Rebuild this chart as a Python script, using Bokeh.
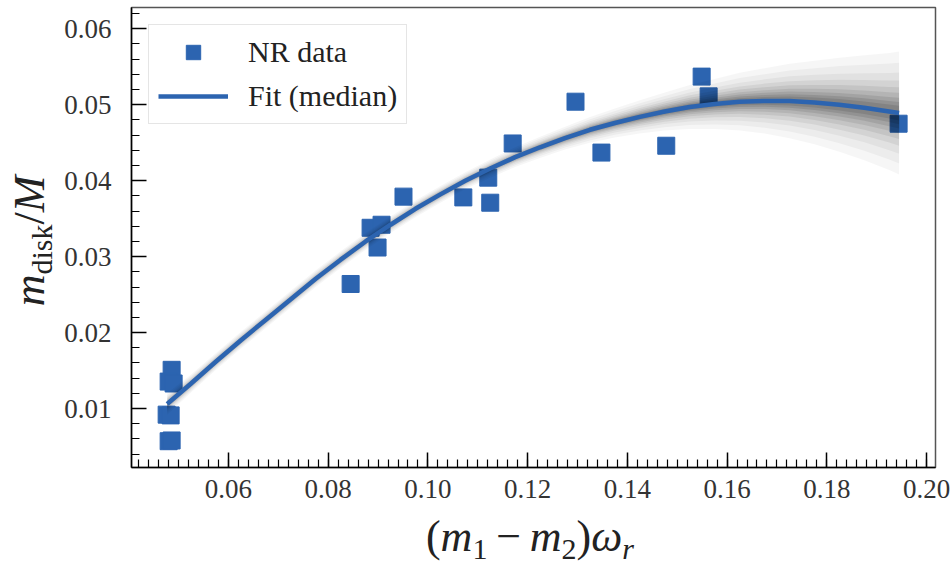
import numpy as np
from bokeh.plotting import figure
from bokeh.layouts import row, column
from bokeh.models import Div, Legend, LegendItem, FixedTicker, NumeralTickFormatter, Range1d
from bokeh.embed import file_html
from bokeh.resources import INLINE

# NR simulation points: disk mass vs (m1 - m2) * omega_r
nr_x = [0.0486, 0.0480, 0.0490, 0.0476, 0.0484, 0.0480, 0.0486, 0.0845, 0.0885,
        0.0899, 0.0907, 0.0951, 0.1071, 0.1121, 0.1125, 0.1170, 0.1296, 0.1348,
        0.1478, 0.1549, 0.1563, 0.1944]
nr_y = [0.0151, 0.01355, 0.0133, 0.0092, 0.0091, 0.0057, 0.0058, 0.0264, 0.0338,
        0.0312, 0.0342, 0.0379, 0.0378, 0.0404, 0.0371, 0.0449, 0.0504, 0.0437,
        0.0446, 0.0537, 0.0511, 0.0475]

# Posterior fit: median curve and spread of the posterior draws
fit_x = [0.0477, 0.0525, 0.0575, 0.0625, 0.0675, 0.0725, 0.0775, 0.0825, 0.0875,
         0.0925, 0.0975, 0.1025, 0.1075, 0.1125, 0.1175, 0.1225, 0.1275, 0.1325,
         0.1375, 0.1425, 0.1475, 0.1525, 0.1575, 0.1625, 0.1675, 0.1725, 0.1775,
         0.1825, 0.1875, 0.1925, 0.1945]
fit_median = [0.0106, 0.0133, 0.0162, 0.0190, 0.0217, 0.0244, 0.0271, 0.0296, 0.0320,
              0.0342, 0.0363, 0.0382, 0.0400, 0.0416, 0.0431, 0.0444, 0.0456, 0.0467,
              0.0476, 0.0484, 0.0491, 0.0497, 0.0501, 0.0504, 0.0505, 0.0505, 0.0503,
              0.0500, 0.0496, 0.0491, 0.0489]
fit_spread = [0.0014, 0.0012, 0.0011, 0.0011, 0.0011, 0.0011, 0.0011, 0.0011, 0.0011,
              0.0011, 0.0011, 0.0011, 0.0011, 0.0012, 0.0013, 0.0014, 0.0015, 0.0017,
              0.0019, 0.0022, 0.0025, 0.0029, 0.0033, 0.0038, 0.0043, 0.0049, 0.0055,
              0.0062, 0.0069, 0.0077, 0.0081]

x_major = [0.06, 0.08, 0.10, 0.12, 0.14, 0.16, 0.18, 0.20]
y_major = [0.01, 0.02, 0.03, 0.04, 0.05, 0.06]

BLUE = "#2c64b0"
SERIF = "Liberation Serif"
YLAB_W = 60
PLOT_H = 520

p = figure(width=952 - YLAB_W, height=PLOT_H, output_backend="svg",
           toolbar_location=None, margin=0,
           x_range=Range1d(0.04055, 0.2018), y_range=Range1d(0.00224, 0.0628),
           min_border_left=131 - YLAB_W, min_border_right=17, min_border_top=7,
           min_border_bottom=PLOT_H - 467)
p.xgrid.visible = False
p.ygrid.visible = False
p.outline_line_color = "#555555"
p.outline_line_width = 1.5

# data points sit underneath the posterior band
sq = p.scatter(nr_x, nr_y, marker="square", size=17, fill_color=BLUE,
               line_color=BLUE, line_width=1)

# posterior draws shown as nested translucent bands, darkest near the median
med = np.array(fit_median)
spr = np.array(fit_spread)
for frac, alpha in [(1.0, 0.035), (0.82, 0.04), (0.66, 0.045), (0.53, 0.06),
                    (0.42, 0.07), (0.33, 0.08), (0.25, 0.09), (0.18, 0.1),
                    (0.12, 0.1)]:
    p.varea(x=fit_x, y1=med - frac * spr, y2=med + frac * spr,
            fill_color="black", fill_alpha=alpha)

ln = p.line(fit_x, fit_median, line_width=4.5, line_color=BLUE)

# axes: inward ticks on left and bottom, serif tick labels
x_minor = [round(0.042 + 0.002 * i, 3) for i in range(80)]
y_minor = [round(0.004 + 0.002 * i, 3) for i in range(30)]
p.xaxis.ticker = FixedTicker(ticks=x_major, minor_ticks=x_minor)
p.yaxis.ticker = FixedTicker(ticks=y_major, minor_ticks=y_minor)
for ax in (p.xaxis, p.yaxis):
    ax.formatter = NumeralTickFormatter(format="0.00")
    ax.major_tick_in = 15
    ax.major_tick_out = 0
    ax.minor_tick_in = 8
    ax.minor_tick_out = 0
    ax.axis_line_width = 1.5
    ax.major_tick_line_width = 1.5
    ax.minor_tick_line_width = 1.2
    ax.axis_line_color = "black"
    ax.major_tick_line_color = "black"
    ax.minor_tick_line_color = "black"
    ax.major_label_text_font = SERIF
    ax.major_label_text_font_size = "27px"
    ax.major_label_text_color = "#333333"
p.xaxis.major_label_standoff = 12
p.yaxis.major_label_standoff = 20

legend = Legend(items=[LegendItem(label="NR data", renderers=[sq]),
                       LegendItem(label="Fit (median)", renderers=[ln])],
                location="top_left", margin=17, padding=9, spacing=8,
                glyph_width=70, glyph_height=36, label_standoff=20,
                label_text_font=SERIF, label_text_font_size="30px",
                label_text_color="#222222", border_line_color="#cccccc",
                border_line_width=1.5, background_fill_alpha=0.85)
p.add_layout(legend)

# axis titles with math-style subscripts
FONT = "font-family:'Liberation Serif'; font-size:44px; color:#222; line-height:1; white-space:nowrap;"
SUB = "font-size:30px; vertical-align:-0.28em; line-height:0;"

xlabel_html = (
    f'<div style="position:relative; width:952px; height:{566 - PLOT_H}px;">'
    f'<span style="position:absolute; left:530px; top:-5px; transform:translateX(-50%); {FONT}">'
    f'(<i>m</i><span style="{SUB}">1</span>&thinsp;&minus;&thinsp;<i>m</i>'
    f'<span style="{SUB}">2</span>)<i>&omega;</i><span style="{SUB}"><i>r</i></span>'
    '</span></div>'
)
ylabel_html = (
    f'<div style="position:relative; width:{YLAB_W}px; height:{PLOT_H}px;">'
    f'<span style="position:absolute; left:30px; top:241px; '
    f'transform:translate(-50%, -50%) rotate(-90deg); {FONT}">'
    f'<i>m</i><span style="{SUB}">disk</span>/<i>M</i>'
    '</span></div>'
)

xlabel = Div(text=xlabel_html, width=952, height=566 - PLOT_H, margin=0)
ylabel = Div(text=ylabel_html, width=YLAB_W, height=PLOT_H, margin=0)

page = column(row(ylabel, p, spacing=0, margin=0), xlabel, spacing=0, margin=0)

open("out.html", "w").write(file_html(page, INLINE))
